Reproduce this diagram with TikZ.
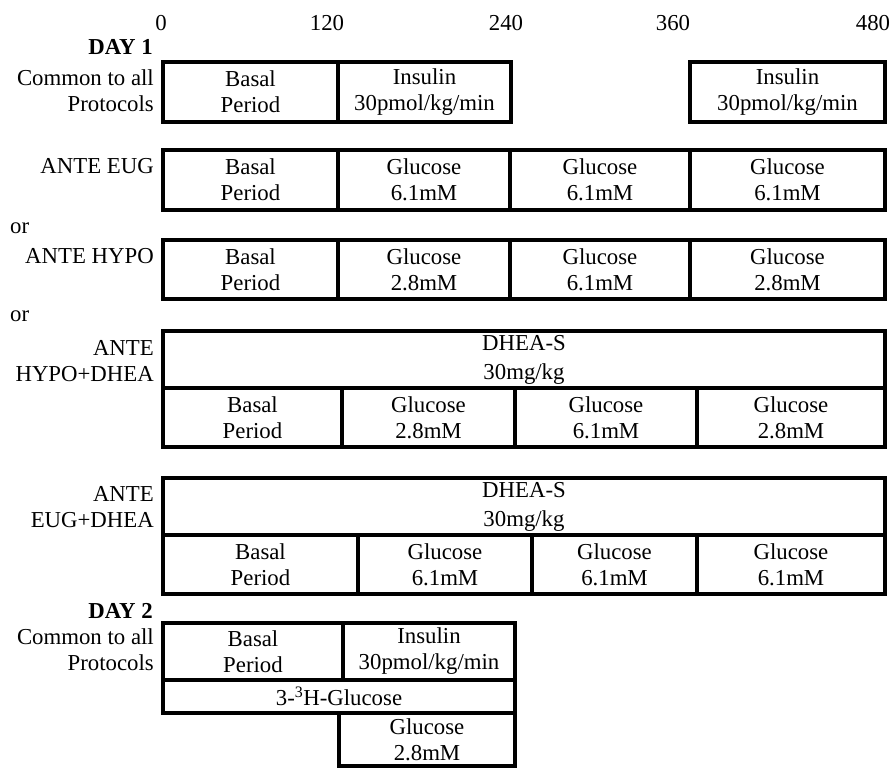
\documentclass[tikz,border=0pt]{standalone}
\usepackage{fontspec}
\setmainfont{Liberation Serif}
\newcommand{\fs}{\fontsize{22.8pt}{26pt}\selectfont}
\tikzset{
  cell/.style 2 args={draw, line width=3.6pt, inner sep=0pt, outer sep=0pt,
    align=center, anchor=north west, font=\fs, minimum width=#1, minimum height=#2},
  lbl/.style={anchor=east, align=right, inner sep=0pt, font=\fs},
  tick/.style={anchor=center, inner sep=0pt, font=\fs},
}
\begin{document}
\begin{tikzpicture}[x=1pt, y=-1pt]
\useasboundingbox (0,0) rectangle (891,768);
% time axis
\node[tick] (t0) at (161,23) {0};
\node[tick] (t120) at (327,23) {120};
\node[tick] (t240) at (506,23) {240};
\node[tick] (t360) at (673,23) {360};
\node[tick] (t480) at (873,23) {480};
% DAY 1
\node[lbl, font=\fs\bfseries] (day1) at (153,47) {DAY 1};
\node[lbl] (l1) at (154,91) {Common to all\\Protocols};
\node[cell={175pt}{60pt}] (r1a) at (163,62) {Basal\\Period};
\node[cell={173pt}{60pt}] (r1b) at (338,62) {Insulin\\30pmol/kg/min};
\node[cell={195pt}{60pt}] (r1c) at (690,62) {Insulin\\30pmol/kg/min};
% ANTE EUG
\node[lbl] (l2) at (154,166) {ANTE EUG};
\node[cell={175pt}{60pt}] (r2a) at (163,150) {Basal\\Period};
\node[cell={172pt}{60pt}] (r2b) at (338,150) {Glucose\\6.1mM};
\node[cell={180pt}{60pt}] (r2c) at (510,150) {Glucose\\6.1mM};
\node[cell={195pt}{60pt}] (r2d) at (690,150) {Glucose\\6.1mM};
\node[anchor=west, inner sep=0pt, font=\fs] (or1) at (10,228) {or};
% ANTE HYPO
\node[lbl] (l3) at (154,256) {ANTE HYPO};
\node[cell={175pt}{59pt}] (r3a) at (163,240) {Basal\\Period};
\node[cell={172pt}{59pt}] (r3b) at (338,240) {Glucose\\2.8mM};
\node[cell={180pt}{59pt}] (r3c) at (510,240) {Glucose\\6.1mM};
\node[cell={195pt}{59pt}] (r3d) at (690,240) {Glucose\\2.8mM};
\node[anchor=west, inner sep=0pt, font=\fs] (or2) at (10,316) {or};
% ANTE HYPO+DHEA
\node[lbl] (l4) at (154,361) {ANTE\\HYPO+DHEA};
\node[cell={722pt}{57pt}] (r4t) at (163,331) {DHEA-S\\[3pt]30mg/kg};
\node[cell={179pt}{59pt}] (r4a) at (163,388) {Basal\\Period};
\node[cell={173pt}{59pt}] (r4b) at (342,388) {Glucose\\2.8mM};
\node[cell={182pt}{59pt}] (r4c) at (515,388) {Glucose\\6.1mM};
\node[cell={188pt}{59pt}] (r4d) at (697,388) {Glucose\\2.8mM};
% ANTE EUG+DHEA
\node[lbl] (l5) at (154,507) {ANTE\\EUG+DHEA};
\node[cell={722pt}{57pt}] (r5t) at (163,478) {DHEA-S\\[3pt]30mg/kg};
\node[cell={195pt}{59pt}] (r5a) at (163,535) {Basal\\Period};
\node[cell={174pt}{59pt}] (r5b) at (358,535) {Glucose\\6.1mM};
\node[cell={165pt}{59pt}] (r5c) at (532,535) {Glucose\\6.1mM};
\node[cell={188pt}{59pt}] (r5d) at (697,535) {Glucose\\6.1mM};
% DAY 2
\node[lbl, font=\fs\bfseries] (day2) at (153,611) {DAY 2};
\node[lbl] (l6) at (154,650) {Common to all\\Protocols};
\node[cell={180pt}{57pt}] (d2a) at (163,623) {Basal\\Period};
\node[cell={172pt}{57pt}] (d2b) at (343,623) {Insulin\\30pmol/kg/min};
\node[cell={352pt}{33pt}] (d2c) at (163,680) {3-\textsuperscript{3}H-Glucose};
\node[cell={176pt}{53pt}] (d2d) at (339,713) {Glucose\\2.8mM};
\end{tikzpicture}
\end{document}
